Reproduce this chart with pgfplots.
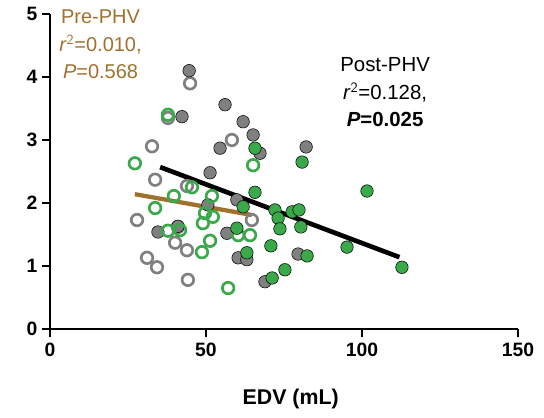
\documentclass[border=0pt]{standalone}
\usepackage{fontspec}
\setmainfont{Liberation Sans}
\usepackage{pgfplots}
\pgfplotsset{compat=1.18}
\definecolor{ggrey}{RGB}{128,128,128}
\definecolor{ggreen}{RGB}{57,169,74}
\definecolor{gbrown}{RGB}{160,113,45}
\begin{document}
\begin{tikzpicture}
\useasboundingbox (-37.5pt,-66.75pt) rectangle (370.5pt,246.75pt);
\begin{axis}[
  at={(0,0)}, anchor=south west,
  scale only axis, width=351pt, height=236.25pt,
  xmin=0, xmax=150, ymin=0, ymax=5,
  xtick={0,50,100,150}, ytick={0,1,2,3,4,5},
  axis x line*=bottom, axis y line*=left,
  axis line style={line width=1.5pt, -},
  tick style={line width=1.5pt, black},
  tick align=outside, major tick length=6pt,
  ticklabel style={font=\fontsize{14.5}{16}\selectfont\bfseries},
  xticklabel style={yshift=-1pt},
  /pgf/number format/assume math mode=true,
  xlabel={\fontsize{16}{18}\selectfont\bfseries EDV (mL)},
  xlabel style={yshift=-17pt, xshift=5pt},
  clip=false,
]
% grey open
\addplot[only marks, mark=o, mark size=4.35pt, ggrey, mark options={line width=2pt}] coordinates {
(44.9,3.90)(32.7,2.90)(37.8,3.35)(58.3,3.00)(33.7,2.37)(43.9,2.27)(27.9,1.73)(41.0,1.62)
(40.1,1.37)(43.9,1.25)(31.1,1.13)(34.3,0.98)(44.2,0.78)(64.7,1.73)
};
% grey filled
\addplot[only marks, mark=*, mark size=4.7pt, mark options={draw=none, fill=ggrey}] coordinates {
(44.6,4.10)(42.3,3.37)(56.1,3.56)(61.9,3.29)(65.1,3.08)(54.5,2.87)(67.3,2.79)(51.3,2.48)
(82.1,2.89)(50.6,1.97)(59.9,2.05)(34.6,1.54)(41.0,1.63)(56.7,1.52)(60.3,1.13)(63.1,1.10)
(79.5,1.19)(68.9,0.75)
};
% green open
\addplot[only marks, mark=o, mark size=4.35pt, ggreen, mark options={line width=2pt}] coordinates {
(27.2,2.63)(37.8,3.40)(65.1,2.60)(33.7,1.92)(39.7,2.11)(45.5,2.25)(51.9,2.11)(49.7,1.84)
(52.2,1.78)(49.0,1.68)(37.8,1.56)(41.7,1.57)(60.3,1.49)(64.1,1.49)(51.3,1.40)(48.7,1.22)
(57.1,0.65)
};
% green filled
\addplot[only marks, mark=*, mark size=4.7pt, mark options={draw=none, fill=ggreen}] coordinates {
(65.7,2.87)(80.8,2.65)(101.6,2.19)(65.7,2.17)(61.9,1.94)(59.9,1.60)(72.1,1.89)(73.1,1.76)
(77.6,1.86)(79.8,1.89)(73.7,1.59)(80.4,1.62)(70.8,1.32)(95.2,1.30)(63.1,1.21)(82.4,1.16)
(75.3,0.94)(71.2,0.81)(112.8,0.98)
};
% regression lines
\addplot[gbrown, line width=3.2pt, no marks] coordinates {(27.2,2.14)(64.7,1.81)};
\addplot[black, line width=3.5pt, no marks] coordinates {(35.3,2.57)(112,1.14)};
\node[align=center, text=gbrown, font=\fontsize{15}{20.5}\selectfont] at (axis cs:16.2,4.52)
  {Pre-PHV\\\textit{r}$^{\mathsf{2}}$=0.010,\\\textit{P}=0.568};
\node[align=center, text=black, font=\fontsize{15.3}{20.5}\selectfont] at (axis cs:107.4,3.76)
  {Post-PHV\\\textit{r}$^{\mathsf{2}}$=0.128,\\\textbf{\textit{P}=0.025}};
\end{axis}
\end{tikzpicture}
\end{document}
